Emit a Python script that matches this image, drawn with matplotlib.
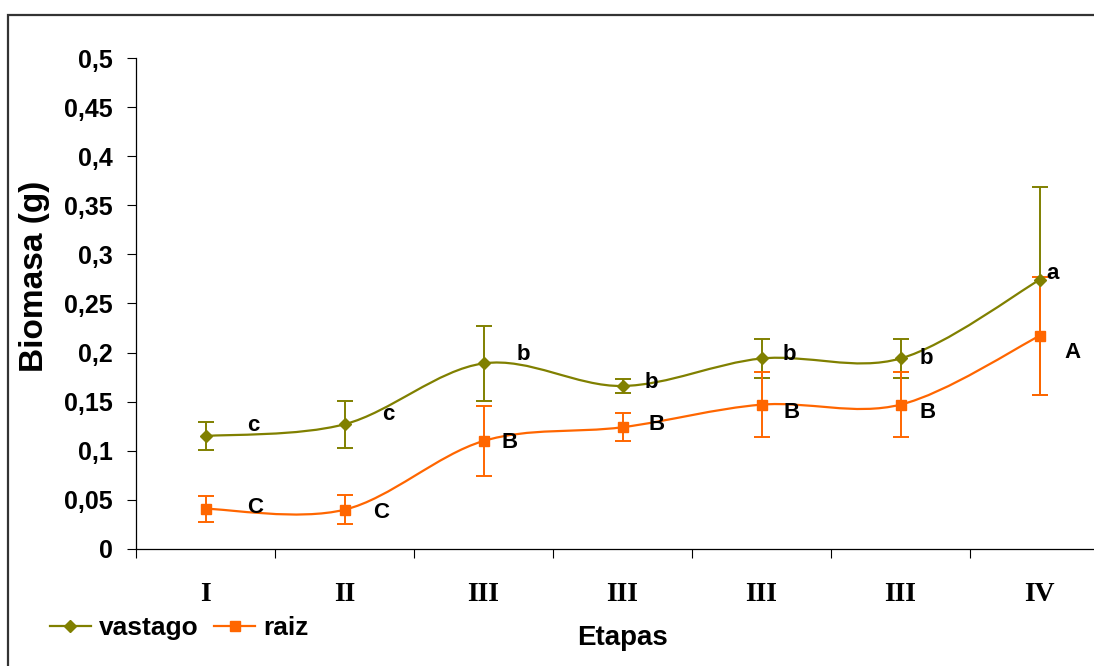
import matplotlib
matplotlib.use("Agg")
import matplotlib.pyplot as plt
from matplotlib.path import Path
from matplotlib.patches import PathPatch, Rectangle
from matplotlib.lines import Line2D
from matplotlib.ticker import FuncFormatter, MultipleLocator
import numpy as np

# data
etapas = ['I', 'II', 'III', 'III', 'III', 'III', 'IV']
vastago = [0.115, 0.127, 0.189, 0.166, 0.194, 0.194, 0.274]
vastago_err_lo = [0.014, 0.024, 0.038, 0.007, 0.020, 0.020, 0.117]
vastago_err_hi = [0.014, 0.024, 0.038, 0.007, 0.020, 0.020, 0.095]
vastago_letras = ['c', 'c', 'b', 'b', 'b', 'b', 'a']
raiz = [0.041, 0.040, 0.110, 0.124, 0.147, 0.147, 0.217]
raiz_err_lo = [0.013, 0.015, 0.036, 0.014, 0.033, 0.033, 0.060]
raiz_err_hi = [0.013, 0.015, 0.036, 0.014, 0.033, 0.033, 0.060]
raiz_letras = ['C', 'C', 'B', 'B', 'B', 'B', 'A']

# label offsets (pixels) for the letters
v_off = [(48, 11), (44, 10), (40, 9), (29, 3), (28, 4), (26, 0), (13, 6)]
r_off = [(50, 1), (37, -3), (26, -2), (34, 3), (30, -8), (27, -8), (33, -17)]

verde = '#808000'
naranja = '#FF6600'

fig = plt.figure(figsize=(10.94, 6.66), dpi=100)
ax = fig.add_axes([136/1094, 117/666, 973/1094, 491/666])

xs = np.arange(len(etapas)) + 0.5


def smooth_path(x, y):
    # Catmull-Rom style bezier, like Excel's smoothed lines
    pts = np.column_stack([x, y])
    ext = np.vstack([pts[0], pts, pts[-1]])
    verts = [pts[0]]
    codes = [Path.MOVETO]
    for i in range(len(pts) - 1):
        p0, p1, p2, p3 = ext[i], ext[i+1], ext[i+2], ext[i+3]
        verts += [p1 + (p2 - p0) / 6, p2 - (p3 - p1) / 6, p2]
        codes += [Path.CURVE4] * 3
    return Path(verts, codes)


series = [
    (vastago, [vastago_err_lo, vastago_err_hi], vastago_letras, v_off, verde, 'D', 6),
    (raiz, [raiz_err_lo, raiz_err_hi], raiz_letras, r_off, naranja, 's', 7.5),
]
for vals, err, letras, off, col, mk, ms in series:
    ax.add_patch(PathPatch(smooth_path(xs, vals), fill=False, edgecolor=col, lw=1.6, zorder=2))
    ax.errorbar(xs, vals, yerr=err, fmt=mk, color=col, ms=ms, ecolor=col,
                elinewidth=1.4, capsize=6, capthick=1.4, zorder=3)
    for xi, yi, t, d in zip(xs, vals, letras, off):
        ax.annotate(t, (xi, yi), xytext=d, textcoords='offset pixels',
                    ha='center', va='center', fontsize=16, fontweight='bold',
                    family='Liberation Sans', zorder=4)

ax.set_xlim(0, len(etapas))
ax.set_ylim(0, 0.5)
ax.yaxis.set_major_locator(MultipleLocator(0.05))
ax.yaxis.set_major_formatter(FuncFormatter(lambda v, p: f'{v:.2f}'.rstrip('0').rstrip(',.').replace('.', ',') if v else '0'))
ax.set_xticks(np.arange(len(etapas) + 1))
ax.set_xticklabels([])
ax.set_xticks(xs, minor=True)
ax.set_xticklabels(etapas, minor=True, family='Liberation Serif', fontweight='bold', fontsize=20)
ax.tick_params(axis='x', which='minor', length=0, pad=24)
ax.tick_params(axis='x', which='major', length=6.5, width=0.8, direction='out')
ax.tick_params(axis='y', length=6.5, width=0.8, direction='out', pad=10, labelsize=18)
for lab in ax.get_yticklabels():
    lab.set_fontweight('bold')
    lab.set_family('Liberation Sans')

for s in ['top', 'right']:
    ax.spines[s].set_visible(False)
for s in ['left', 'bottom']:
    ax.spines[s].set_linewidth(0.9)

ax.set_ylabel('Biomasa (g)', fontsize=24, fontweight='bold', family='Liberation Sans')
ax.yaxis.set_label_coords(-0.0884, 0.556)
ax.set_xlabel('Etapas', fontsize=20, fontweight='bold', family='Liberation Sans')
ax.xaxis.set_label_coords(0.5, -0.155)

handles = [Line2D([], [], color=verde, lw=1.6, marker='D', ms=6),
           Line2D([], [], color=naranja, lw=1.6, marker='s', ms=7.5)]
fig.legend(handles, ['vastago', 'raiz'], loc='center left',
           bbox_to_anchor=(50/1094, 1 - 628/666), ncol=2, frameon=False,
           borderpad=0, borderaxespad=0, handlelength=1.55, handletextpad=0.3,
           columnspacing=0.6, prop={'family': 'Liberation Sans', 'weight': 'bold', 'size': 19})

# outer chart border (cut off at right and bottom)
fig.patches.append(Rectangle((8/1094, -0.2), 1.2, 0.2 + 1 - 15/666, transform=fig.transFigure,
                             fill=False, edgecolor='#333333', lw=1.6, clip_on=False))

fig.savefig('out.png', dpi=100)
